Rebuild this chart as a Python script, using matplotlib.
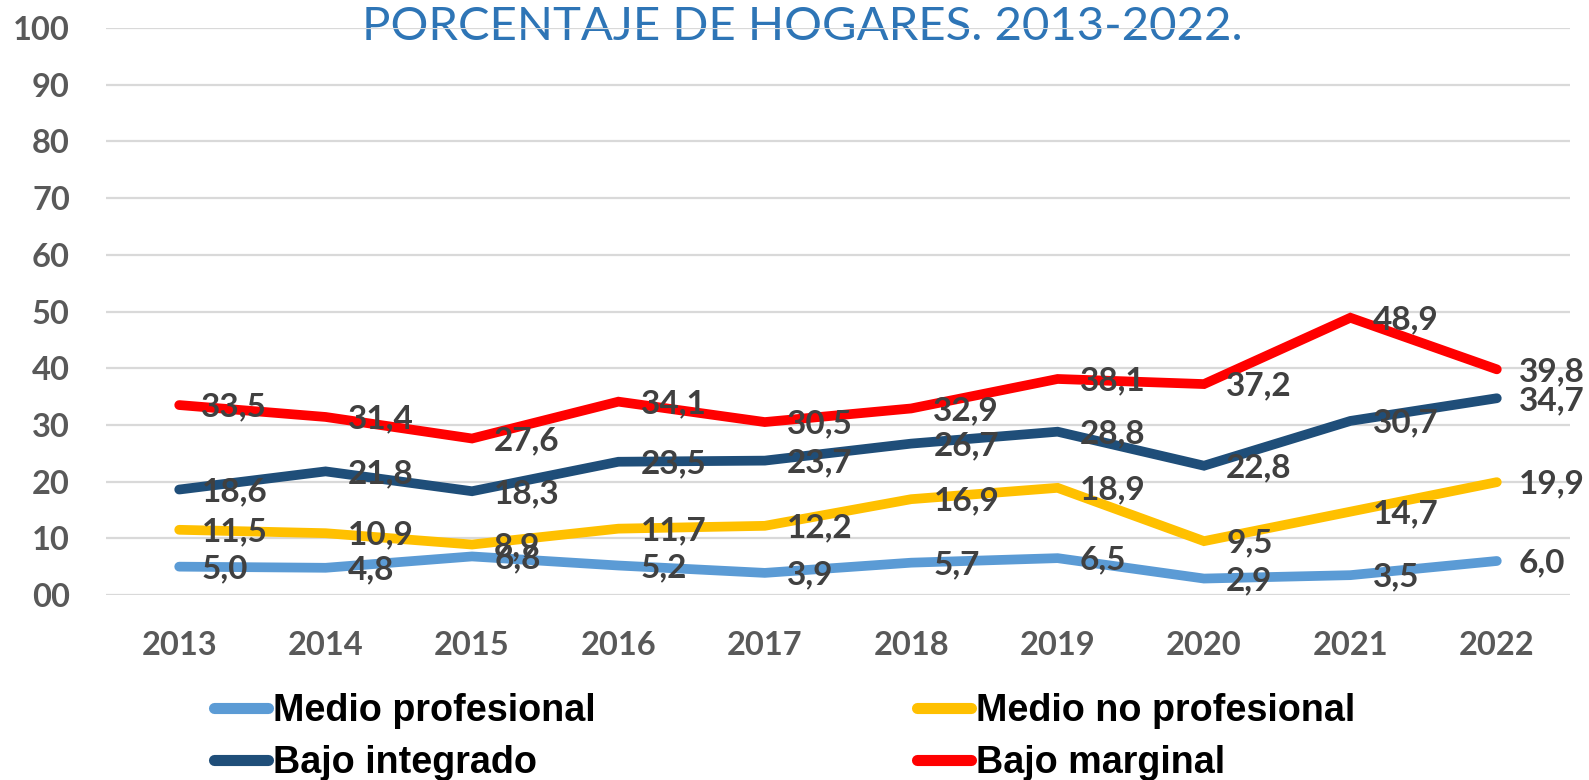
import matplotlib
matplotlib.use("Agg")
import matplotlib.pyplot as plt
from matplotlib.lines import Line2D

# años y series (porcentaje de hogares)
years = ["2013", "2014", "2015", "2016", "2017", "2018", "2019", "2020", "2021", "2022"]
medio_prof = [5.0, 4.8, 6.8, 5.2, 3.9, 5.7, 6.5, 2.9, 3.5, 6.0]
medio_no_prof = [11.5, 10.9, 8.9, 11.7, 12.2, 16.9, 18.9, 9.5, 14.7, 19.9]
bajo_integrado = [18.6, 21.8, 18.3, 23.5, 23.7, 26.7, 28.8, 22.8, 30.7, 34.7]
bajo_marginal = [33.5, 31.4, 27.6, 34.1, 30.5, 32.9, 38.1, 37.2, 48.9, 39.8]

series_names = ["Medio profesional", "Medio no profesional", "Bajo integrado", "Bajo marginal"]
series_colors = ["#5B9BD5", "#FFC000", "#1F4E79", "#FF0000"]
yticks = [0, 10, 20, 30, 40, 50, 60, 70, 80, 90, 100]
ytick_labels = ["00", "10", "20", "30", "40", "50", "60", "70", "80", "90", "100"]

fig = plt.figure(figsize=(15.89, 7.80), dpi=100)
ax = fig.add_axes([106 / 1589, 185 / 780, (1570 - 106) / 1589, (595 - 28) / 780])
ax.set_facecolor("none")

x = list(range(len(years)))
all_series = [medio_prof, medio_no_prof, bajo_integrado, bajo_marginal]
for vals, name, col in zip(all_series, series_names, series_colors):
    ax.plot(x, vals, color=col, lw=7, solid_capstyle="round", solid_joinstyle="miter",
            label=name, zorder=3)
for vals in all_series:
    for xi, v in zip(x, vals):
        ax.annotate(f"{v:.1f}".replace(".", ","), (xi, v), xytext=(16, -1.5),
                    textcoords="offset points", ha="left", va="center",
                    fontsize=24, fontweight="bold", family="Lato",
                    color="#404040", zorder=4)

ax.set_xlim(-0.5, len(years) - 0.5)
ax.set_ylim(0, 100)
ax.set_xticks(x)
ax.set_xticklabels(years)
ax.set_yticks(yticks)
ax.set_yticklabels(ytick_labels)
ax.tick_params(axis="both", length=0, labelsize=23.5, labelcolor="#595959")
ax.tick_params(axis="y", pad=26)
ax.tick_params(axis="x", pad=26)
for lbl in ax.get_xticklabels() + ax.get_yticklabels():
    lbl.set_fontweight("bold")
    lbl.set_family("Lato")
ax.grid(axis="y", color="#D9D9D9", lw=1.6, zorder=0)
ax.set_axisbelow(True)
for s in ax.spines.values():
    s.set_visible(False)

# título (queda por detrás de la línea de 100)
fig.text(802 / 1589, 1 - 40 / 780, "PORCENTAJE DE HOGARES. 2013-2022.",
         ha="center", va="baseline", fontsize=34, family="Lato", fontweight="normal",
         color="#2E75B6", zorder=-1)

# leyenda en dos columnas
handles = [Line2D([], [], color=c, lw=8, solid_capstyle="round") for c in series_colors]
order = [0, 2, 1, 3]
leg = fig.legend([handles[i] for i in order], [series_names[i] for i in order],
                 loc="upper left", bbox_to_anchor=(214 / 1589, 1 - 693 / 780),
                 ncol=2, frameon=False, handlelength=1.42, handletextpad=0.15,
                 columnspacing=8.5, labelspacing=0.42, borderaxespad=0, borderpad=0,
                 prop={"family": "Liberation Sans", "weight": "bold", "size": 27.2})

fig.savefig("out.png", dpi=100)
